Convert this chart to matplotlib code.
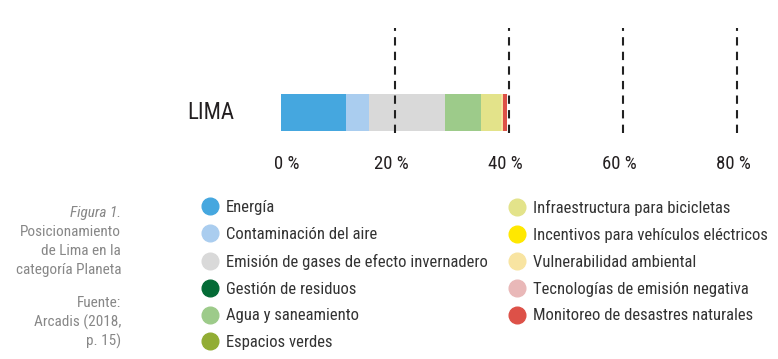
import matplotlib.pyplot as plt
from matplotlib.lines import Line2D
from matplotlib.transforms import ScaledTranslation

# categorías y valores (% de la puntuación de Lima)
categorias = ['Energía', 'Contaminación del aire',
              'Emisión de gases de efecto invernadero', 'Gestión de residuos',
              'Agua y saneamiento', 'Espacios verdes',
              'Infraestructura para bicicletas',
              'Incentivos para vehículos eléctricos',
              'Vulnerabilidad ambiental', 'Tecnologías de emisión negativa',
              'Monitoreo de desastres naturales']
valores = [11.4, 4.1, 13.3, 0.0, 6.3, 0.0, 3.5, 0.0, 0.4, 0.0, 0.7]
colores = ['#45a7df', '#aacdef', '#d9d9d9', '#046b36', '#9dcb8a', '#92ad34',
           '#e3e38a', '#ffe800', '#f8e4a1', '#e9b8b8', '#dd5148']
ciudad = 'LIMA'
ticks = [0, 20, 40, 60, 80]
tick_labels = ['0 %', '20 %', '40 %', '60 %', '80 %']

fuente = ['Roboto Condensed', 'Liberation Sans Narrow', 'Roboto', 'DejaVu Sans']
W, H = 778, 359
fig = plt.figure(figsize=(W / 100, H / 100), dpi=100)

# ejes: 0 % en x=281 px, 20 % cada 114 px
x0, x1 = -5, 85
pxu = 114 / 20
left = 281 + x0 * pxu
right = 281 + x1 * pxu
top, bottom = 28, 133
ax = fig.add_axes([left / W, 1 - bottom / H, (right - left) / W, (bottom - top) / H])
ax.set_xlim(x0, x1)
ax.set_ylim(0, 1)

inicio = 0
for v, c in zip(valores, colores):
    ax.barh(0.195, v, left=inicio, height=0.352, color=c, zorder=2)
    inicio += v

for t in ticks[1:]:
    ax.axvline(t, color='#222222', lw=1.5, ls=(0, (4, 3)), zorder=3)

for s in ax.spines.values():
    s.set_visible(False)
ax.set_yticks([])
ax.set_xticks(ticks)
ax.set_xticklabels(tick_labels, family=fuente, fontsize=13.5, color='#231f20')
ax.tick_params(axis='x', length=0, pad=16)
for i, lbl in enumerate(ax.get_xticklabels()):
    dx = 6 if i == 0 else -4
    lbl.set_transform(lbl.get_transform() + ScaledTranslation(dx / 100, 0, fig.dpi_scale_trans))

ax.text(-8.2, 0.195, ciudad, ha='right', va='center', family=fuente,
        fontsize=16.5, color='#231f20')

# leyenda en dos columnas
handles = [Line2D([], [], ls='none', marker='o', markersize=12,
                  markerfacecolor=c, markeredgecolor=c) for c in colores]
opts = dict(loc='upper left', frameon=False,
            prop={'family': fuente, 'size': 12}, labelcolor='#333333',
            handlelength=0.9, handletextpad=0.49, labelspacing=0.71,
            borderpad=0, borderaxespad=0)
fig.legend(handles[:6], categorias[:6],
           bbox_to_anchor=(202.8 / W, 1 - 200 / H), **opts)
fig.legend(handles[6:], categorias[6:],
           bbox_to_anchor=(509.8 / W, 1 - 200 / H), **opts)

# pie de figura
gris = '#878787'
fig.text(121 / W, 1 - 213 / H, 'Figura 1.', ha='right', va='center',
         family=fuente, style='italic', fontsize=11, color=gris)
lineas = ['Posicionamiento', 'de Lima en la', 'categoría Planeta']
for i, t in enumerate(lineas):
    fig.text(121 / W, 1 - (232 + 19 * i) / H, t, ha='right', va='center',
             family=fuente, fontsize=11, color=gris)
lineas2 = ['Fuente:', 'Arcadis (2018,', 'p. 15)']
for i, t in enumerate(lineas2):
    fig.text(121 / W, 1 - (303 + 19 * i) / H, t, ha='right', va='center',
             family=fuente, fontsize=11, color=gris)

fig.savefig('out.png', dpi=100)
